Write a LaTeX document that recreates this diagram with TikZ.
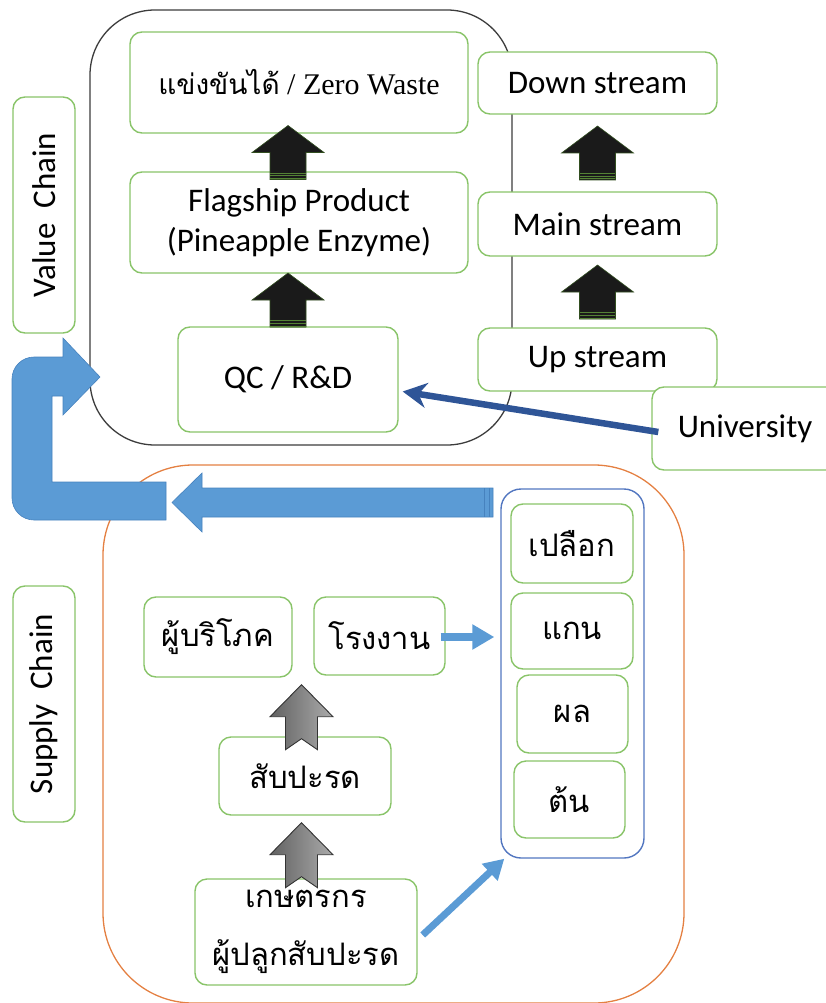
\documentclass[tikz,border=0pt]{standalone}
\usepackage{fontspec}
\setmainfont{Carlito}
\newfontfamily\thaifont[Script=Thai]{Loma}
\newfontfamily\timesfont{Liberation Serif}
\usetikzlibrary{arrows.meta,calc}
\definecolor{gboxc}{RGB}{137,196,105}
\definecolor{vcboxc}{RGB}{60,60,60}
\definecolor{scboxc}{RGB}{228,128,66}
\definecolor{partsc}{RGB}{82,118,192}
\definecolor{unic}{RGB}{47,85,151}
\definecolor{lblue}{RGB}{91,155,213}
\definecolor{lblueedge}{RGB}{70,130,190}
\definecolor{blkc}{RGB}{26,26,26}
\definecolor{stripec}{RGB}{84,130,53}
\tikzset{
  gnode/.style={draw=gboxc, fill=white, line width=1.4pt, rounded corners=12pt, align=center, inner sep=0pt, font=\fontsize{33}{40}\selectfont},
  thnode/.style={gnode, font=\thaifont\fontsize{31}{36}\selectfont},
  blockarrow/.style={fill=blkc, draw=stripec!60!black, line width=0.6pt},
  stripe/.style={draw=stripec, line width=0.8pt},
  grayarr/.style={left color=black!62, right color=black!33, draw=black!80, line width=0.9pt},
  bluearr/.style={fill=lblue, draw=lblueedge, line width=0.6pt},
  smallblue/.style={draw=lblue, line width=8pt, -{Triangle[length=22pt,width=24pt]}},
  diagblue/.style={draw=lblue, line width=7pt, -{Triangle[length=20pt,width=22pt]}},
  uniarr/.style={draw=unic, line width=6.5pt, -{Stealth[length=24pt,width=25pt,inset=8pt]}},
}
\newcommand\blkarrow[3]{%
  \coordinate (bam) at ($(#2.north)!0.5!(#3.south)$);
  \coordinate (bac) at (#1.center |- bam);
  \filldraw[blockarrow] ($(bac)+(-36,0)$) -- ($(bac)+(0,-27)$) -- ($(bac)+(36,0)$) -- ($(bac)+(18,0)$) -- ($(bac)+(18,27)$) -- ($(bac)+(-18,27)$) -- ($(bac)+(-18,0)$) -- cycle;
  \foreach \s in {20.5,23.2,25.9} \draw[stripe] ($(bac)+(-17.6,\s)$) -- ($(bac)+(17.6,\s)$);
}
\newcommand\grayarrow[2]{%
  \coordinate (gt) at ($(#1.center |- #2)+(-3.5,7)$);
  \draw[grayarr] ($(gt)+(-31.5,32)$) -- (gt) -- ($(gt)+(31.5,32)$) -- ($(gt)+(16,32)$) -- ($(gt)+(16,65)$) -- ($(gt)+(0,54)$) -- ($(gt)+(-16,65)$) -- ($(gt)+(-16,32)$) -- cycle;
}
\begin{document}
\begin{tikzpicture}[x=1pt,y=-1pt]
\useasboundingbox (0,0) rectangle (826,1003);
\clip (0,0) rectangle (826,1003);
% containers
\node[draw=vcboxc, line width=1.3pt, rounded corners=65pt, minimum width=422pt, minimum height=435pt, inner sep=0pt] (vc) at (301,227.5) {};
\node[draw=scboxc, line width=1.3pt, rounded corners=90pt, minimum width=581pt, minimum height=538pt, inner sep=0pt] (sc) at (393.5,734) {};
% side labels
\node[gnode, rotate=90, minimum width=236pt, minimum height=62pt] (vclabel) at (44,215) {Value\ \ Chain};
\node[gnode, rotate=90, minimum width=236pt, minimum height=62pt] (sclabel) at (44,704) {Supply\ \ Chain};
% value chain
\node[gnode, minimum width=338pt, minimum height=101pt] (top) at (299,82.5) {{\thaifont\fontsize{28}{34}\selectfont แข่งขันได้} {\timesfont\fontsize{30}{36}\selectfont / Zero Waste}};
\node[gnode, minimum width=338pt, minimum height=101pt] (flag) at (299,222.5) {Flagship Product\\(Pineapple Enzyme)};
\node[gnode, minimum width=220pt, minimum height=105pt] (qc) at (288,379.5) {QC / R\&D};
\node[gnode, minimum width=239pt, minimum height=62pt] (down) at (597.5,83) {Down stream};
\node[gnode, minimum width=239pt, minimum height=64pt] (main) at (597.5,224) {Main stream};
\node[gnode, minimum width=239pt, minimum height=63pt] (up) at (597.5,359.5) {Up stream};
\node[gnode, minimum width=186pt, minimum height=83pt] (uni) at (745,428.5) {University};
% supply chain
\node[draw=partsc, line width=1.4pt, rounded corners=20pt, minimum width=143pt, minimum height=369pt, inner sep=0pt] (parts) at (572.5,673.5) {};
\node[thnode, minimum width=122pt, minimum height=79pt] (peel) at (572,543.5) {เปลือก};
\node[thnode, minimum width=122pt, minimum height=76pt] (core) at (572,631) {แกน};
\node[thnode, minimum width=111pt, minimum height=78pt] (fruit) at (572.5,714) {ผล};
\node[thnode, minimum width=111pt, minimum height=77pt] (stem) at (569.5,799.5) {ต้น};
\node[thnode, minimum width=148pt, minimum height=80pt] (consumer) at (218,637) {ผู้บริโภค};
\node[thnode, minimum width=131pt, minimum height=78pt] (factory) at (379.5,636) {โรงงาน};
\node[thnode, minimum width=172pt, minimum height=78pt] (pine) at (305,776) {สับปะรด};
\node[thnode, minimum width=222pt, minimum height=106pt, font=\thaifont\fontsize{31}{40}\selectfont] (farmer) at (306,932) {เกษตรกร\\[18pt]ผู้ปลูกสับปะรด};
% block arrows
\blkarrow{qc}{flag}{top}
\blkarrow{qc}{qc}{flag}
\blkarrow{main}{main}{down}
\blkarrow{main}{up}{main}
\grayarrow{pine}{consumer.south}
\grayarrow{pine}{pine.south}
% blue big arrows
\filldraw[bluearr] (166,482) -- (166,520) -- (34,520) arc[start angle=90,end angle=180,radius=22] -- (12,379) arc[start angle=180,end angle=270,radius=22] -- (63,357) -- (63,338) -- (100,377) -- (63,415) -- (63,396) -- (52,396) -- (52,482) -- cycle;
\filldraw[bluearr] (493,488) -- (202,488) -- (202,473) -- (172,502.5) -- (202,532) -- (202,517) -- (493,517) -- cycle;
\draw[lblueedge, line width=0.8pt] (484.5,488) -- (484.5,517) (489,488) -- (489,517);
% connectors
\coordinate (unistart) at ($(uni.west)+(7,3.5)$);
\coordinate (qctarget) at ($(qc.east)+(4,12)$);
\draw[uniarr] (unistart) -- (qctarget);
\coordinate (facstart) at ($(factory.east)+(-5,1)$);
\coordinate (coreend) at ($(parts.west |- facstart)+(-6,0)$);
\draw[smallblue] (facstart) -- (coreend);
\coordinate (farmstart) at ($(farmer.east)+(5,3)$);
\coordinate (partsend) at ($(parts.south west)+(4,0)$);
\draw[diagblue] (farmstart) -- (partsend);
\end{tikzpicture}
\end{document}
